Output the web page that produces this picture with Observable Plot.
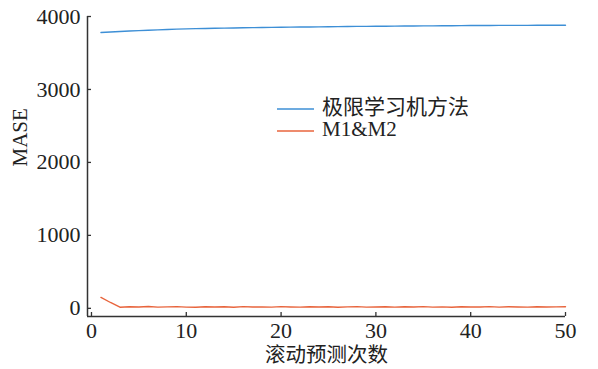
<!DOCTYPE html>
<html>
<head>
<meta charset="utf-8">
<script src="https://cdn.jsdelivr.net/npm/d3@7"></script>
<script src="https://cdn.jsdelivr.net/npm/@observablehq/plot@0.6"></script>
<style>
  html, body { margin: 0; padding: 0; background: #fff; }
  #wrap { position: relative; width: 598px; height: 369px; font-family: "Liberation Serif", "Noto Sans CJK SC", serif; }
  #wrap svg, #wrap svg text { font-family: "Liberation Serif", "Noto Sans CJK SC", serif !important; }
  #legend { position: absolute; left: 0; top: 0; pointer-events: none; }
</style>
</head>
<body>
<div id="wrap"></div>
<script>
const steps = d3.range(1, 51);
const elmValues = [3781,3788,3795,3801,3807,3812,3817,3822,3827,3831,3834,3836,3839,3841,3843,3845,3847,3849,3851,3853,3854,3856,3857,3858,3860,3861,3862,3864,3865,3866,3867,3868,3869,3870,3871,3872,3873,3874,3875,3876,3877,3877,3878,3878,3879,3879,3880,3880,3881,3881];
const m1m2Values = [150,80,15,22,18,25,16,20,24,17,14,22,19,21,15,23,18,20,17,24,19,16,22,18,21,15,20,23,17,19,22,16,21,18,24,17,20,15,22,19,18,23,16,21,19,17,22,18,20,21];
const seriesNames = ["极限学习机方法", "M1&M2"];
const seriesColors = ["#3d8fd6", "#e8643c"];
const xTicks = [0, 10, 20, 30, 40, 50];
const yTicks = [0, 1000, 2000, 3000, 4000];
const xDomain = [-0.42, 50];
const yDomain = [-112, 4000];

const data = [
  ...steps.map((s, i) => ({step: s, value: elmValues[i], series: seriesNames[0]})),
  ...steps.map((s, i) => ({step: s, value: m1m2Values[i], series: seriesNames[1]}))
];

const chart = Plot.plot({
  width: 598,
  height: 369,
  marginLeft: 87,
  marginRight: 33,
  marginTop: 16,
  marginBottom: 53,
  style: {fontSize: "22px", color: "#222", background: "#fff"},
  x: {domain: xDomain, ticks: xTicks, label: null},
  y: {domain: yDomain, ticks: yTicks, label: null},
  color: {domain: seriesNames, range: seriesColors},
  marks: [
    Plot.axisX({ticks: xTicks, tickFormat: d3.format("d"), tickSize: 4, tickPadding: 2, label: null, stroke: "#333", strokeWidth: 1.3, fontSize: 22, fill: "#222"}),
    Plot.axisY({ticks: yTicks, tickFormat: d3.format("d"), tickSize: 4, tickPadding: 3, label: null, stroke: "#333", strokeWidth: 1.3, fontSize: 22, fill: "#222"}),
    Plot.ruleX([xDomain[0]], {stroke: "#333", strokeWidth: 1.5}),
    Plot.ruleY([yDomain[0]], {stroke: "#333", strokeWidth: 1.5}),
    Plot.lineY(data, {x: "step", y: "value", z: "series", stroke: "series", strokeWidth: 1.4}),
    Plot.text(["MASE"], {frameAnchor: "left", dx: -67, rotate: -90, fontSize: 21, fill: "#222"}),
    Plot.text(["滚动预测次数"], {frameAnchor: "bottom", dy: 39, lineAnchor: "middle", fontSize: 20.5, fill: "#222"})
  ]
});

// ticks drawn inward
chart.querySelectorAll('[aria-label="y-axis tick"] path').forEach(p => p.setAttribute("d", "M0,0L4,0"));
chart.querySelectorAll('[aria-label="x-axis tick"] path').forEach(p => p.setAttribute("d", "M0,0L0,-4"));

const wrap = document.getElementById("wrap");
wrap.appendChild(chart);

// legend overlay
const lg = d3.select(wrap).append("svg")
  .attr("id", "legend")
  .attr("width", 598).attr("height", 369);
const rows = lg.selectAll("g").data(seriesNames).join("g")
  .attr("transform", (d, i) => `translate(277,${109 + i * 22})`);
rows.append("line")
  .attr("x1", 0).attr("x2", 37).attr("y1", 0).attr("y2", 0)
  .attr("stroke", (d, i) => seriesColors[i]).attr("stroke-width", 1.4);
rows.append("text")
  .attr("x", 45).attr("y", 0).attr("dy", "0.22em")
  .attr("font-size", 21).attr("fill", "#222")
  .text(d => d);
</script>
</body>
</html>
